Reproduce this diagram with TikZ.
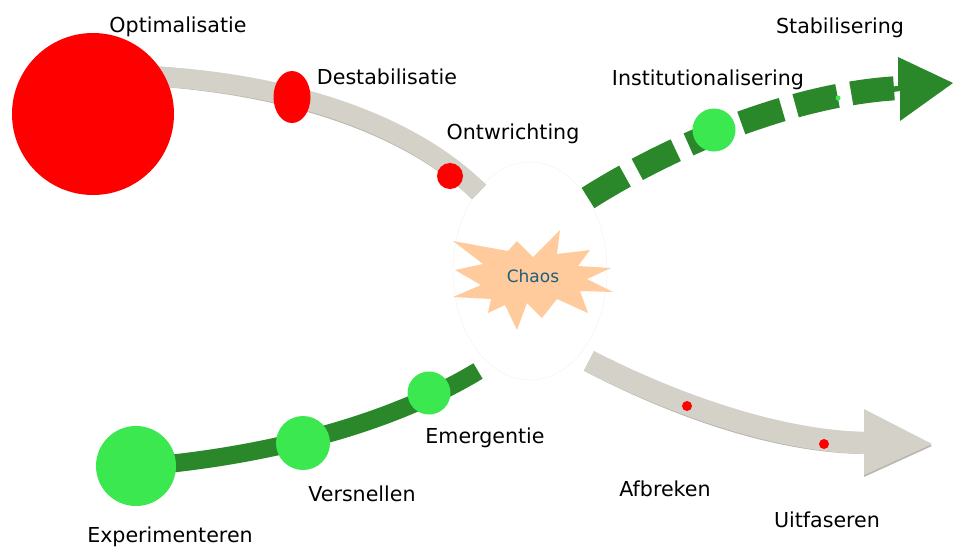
\documentclass[tikz,border=0pt]{standalone}
\usepackage{fontspec}
\setmainfont{DejaVu Sans}
\usetikzlibrary{shapes.geometric}
\definecolor{cred}{HTML}{FF0000}
\definecolor{clight}{HTML}{3BE84F}
\definecolor{cdark}{HTML}{2A872A}
\definecolor{cgray}{HTML}{D4D1C8}
\definecolor{cshadow}{HTML}{BCB8AF}
\definecolor{cstar}{HTML}{FFCB9C}
\definecolor{cchaos}{HTML}{1F5D7C}
\begin{document}
\begin{tikzpicture}[x=1pt,y=-1pt,
  lbl/.style={font=\fontsize{20.6}{24}\selectfont, text=black, inner sep=0pt},
  dot/.style={circle, inner sep=0pt, draw=none},
  reddot/.style={dot, fill=cred},
  greendot/.style={dot, fill=clight},
  grayband/.style={draw=cgray, line width=20pt},
  shadowband/.style={draw=cshadow, line width=20pt, yshift=-1.5pt},
  greenband/.style={draw=cdark, line width=18pt},
  dashband/.style={draw=cdark, line width=24pt, dash pattern=on 43pt off 14pt},
]
\useasboundingbox (0,0) rectangle (954,547);
\fill[white] (0,0) rectangle (954,547);

% chaos area
\node (area) [ellipse, minimum width=154pt, minimum height=218pt, draw=black!5, fill=white] at (530,271) {};

% coordinates of band ends
\coordinate (topstart) at (150,76);
\coordinate (topend) at (479,192);
\coordinate (dstart) at (588,198);
\coordinate (dend) at (900,88);
\coordinate (gstart) at (589,361);
\coordinate (gend) at (866,443);
\coordinate (bstart) at (136,467);
\coordinate (bend) at (478,371);

% bands
\draw[shadowband] (topstart) .. controls (300,84) and (415,128) .. (topend);
\draw[grayband] (topstart) .. controls (300,84) and (415,128) .. (topend);
\draw[dashband] (dstart) .. controls (680,140) and (800,93) .. (dend);
\draw[shadowband, line width=22pt] (gstart) .. controls (680,407) and (780,441) .. (gend);
\draw[grayband, line width=22pt] (gstart) .. controls (680,407) and (780,441) .. (gend);
\draw[greenband] (bstart) .. controls (250,458) and (380,430) .. (bend);

% arrow heads
\fill[cdark] (886,87) -- (898,86) -- (898,57) -- (953,83) -- (900,121) -- (900,91) -- (886,93) -- cycle;
\fill[cshadow] (864,411) -- (932,446) -- (864,477) -- cycle;
\fill[cgray] (864,409) -- (932,444) -- (864,475) -- cycle;

% star
\fill[cstar] (453,241) -- (508,251) -- (517,241) -- (533,257) -- (560,230) -- (557,254)
  -- (590,250) -- (578,266) -- (611,268) -- (587,279) -- (613,292) -- (580,291)
  -- (588,313) -- (557,299) -- (542,318) -- (527,303) -- (517,330) -- (505,305)
  -- (488,313) -- (491,299) -- (453,297) -- (481,285) -- (455,270) -- (483,264) -- cycle;
\node (chaos) [text=cchaos, font=\fontsize{17}{20}\selectfont] at (533,276) {Chaos};

% circles
\node (opt) [reddot, minimum size=162pt] at (93,114) {};
\node (destab) [ellipse, fill=cred, draw=none, minimum width=37pt, minimum height=52pt, inner sep=0pt] at (292,97) {};
\node (ontw) [reddot, minimum size=26pt] at (450,176) {};
\node (inst) [greendot, minimum size=43pt] at (714,130) {};
\node (stab) [greendot, minimum size=5pt] at (838,98) {};
\node (afbr) [reddot, minimum size=10pt] at (687,406) {};
\node (uitf) [reddot, minimum size=10pt] at (824,444) {};
\node (exp) [greendot, minimum size=80pt] at (136,466) {};
\node (vers) [greendot, minimum size=54pt] at (303,443) {};
\node (emer) [greendot, minimum size=43pt] at (429,393) {};

% labels
\node (lopt) [lbl] at (178,27) {Optimalisatie};
\node (ldes) [lbl] at (387,77) {Destabilisatie};
\node (lont) [lbl] at (513,134) {Ontwrichting};
\node (lsta) [lbl] at (840,28) {Stabilisering};
\node (lins) [lbl] at (708,80) {Institutionalisering};
\node (leme) [lbl] at (485,438) {Emergentie};
\node (lver) [lbl] at (362,494) {Versnellen};
\node (lexp) [lbl] at (170,537) {Experimenteren};
\node (lafb) [lbl] at (665,489) {Afbreken};
\node (luit) [lbl] at (827,520) {Uitfaseren};
\end{tikzpicture}
\end{document}
